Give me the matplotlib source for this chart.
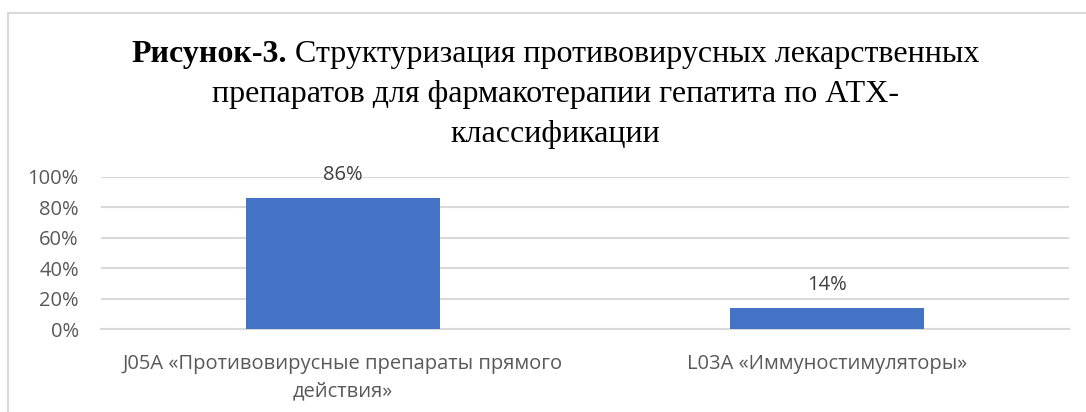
import matplotlib
matplotlib.use("Agg")
import matplotlib.pyplot as plt
from matplotlib.lines import Line2D

categories = ["J05A «Противовирусные препараты прямого\nдействия»",
              "L03A «Иммуностимуляторы»"]
values = [0.86, 0.14]
value_labels = ["86%", "14%"]
yticks = [0, 0.2, 0.4, 0.6, 0.8, 1.0]
ytick_labels = ["0%", "20%", "40%", "60%", "80%", "100%"]
title_bold = "Рисунок-3."
title_rest = " Структуризация противовирусных лекарственных"
title_lines = ["препаратов для фармакотерапии гепатита по АТХ-",
               "классификации"]

W, H = 1086, 412
fig = plt.figure(figsize=(W / 100, H / 100), dpi=100)
fig.patch.set_facecolor("white")

# chart border (top and left visible)
fig.add_artist(Line2D([8 / W, 1.0], [1 - 13 / H, 1 - 13 / H], color="#d9d9d9", lw=1.5,
                      transform=fig.transFigure))
fig.add_artist(Line2D([8 / W, 8 / W], [0, 1 - 13 / H], color="#d9d9d9", lw=1.5,
                      transform=fig.transFigure))

left, right = 101, 1069
top, bottom = 176.7, 329.3
ax = fig.add_axes([left / W, 1 - bottom / H, (right - left) / W, (bottom - top) / H])
ax.set_facecolor("none")

lfs = 14.5
x = list(range(len(values)))
bars = ax.bar(x, values, width=0.4, color="#4472c4", zorder=3)
ax.set_xlim(-0.5, len(values) - 0.5)
ax.set_ylim(0, 1.0)
ax.set_yticks(yticks)
ax.set_yticklabels(ytick_labels)
ax.set_xticks(x)
ax.set_xticklabels(categories)
ax.tick_params(axis="both", length=0, colors="#595959", labelsize=lfs)
for lab in ax.get_yticklabels() + ax.get_xticklabels():
    lab.set_family("Open Sans")
ax.tick_params(axis="y", pad=16)
ax.tick_params(axis="x", pad=18)
for lab in ax.get_xticklabels():
    lab.set_linespacing(1.45)
    lab.set_ha("center")
    lab.set_va("top")
ax.grid(axis="y", color="#d9d9d9", lw=1.5, zorder=0)
for s in ["top", "right", "left"]:
    ax.spines[s].set_visible(False)
ax.spines["bottom"].set_color("#d9d9d9")
ax.spines["bottom"].set_linewidth(1.5)

for b, lbl in zip(bars, value_labels):
    ax.annotate(lbl, (b.get_x() + b.get_width() / 2, b.get_height()),
                xytext=(0, 16.5), textcoords="offset points", ha="center", va="center",
                color="#404040", fontsize=lfs, family="Open Sans")

# title
tfs = 23
cx = 555 / W
fig.canvas.draw()
r = fig.canvas.get_renderer()
t1 = fig.text(0, 0, title_bold, fontsize=tfs, family="Liberation Serif", weight="bold")
t2 = fig.text(0, 0, title_rest, fontsize=tfs, family="Liberation Serif")
w1 = t1.get_window_extent(r).width / W
w2 = t2.get_window_extent(r).width / W
x0 = cx - (w1 + w2) / 2
y1 = 1 - 62 / H
t1.set_position((x0, y1)); t1.set_va("baseline")
t2.set_position((x0 + w1, y1)); t2.set_va("baseline")
for i, line in enumerate(title_lines):
    fig.text(cx, 1 - (62 + 40 * (i + 1)) / H, line, fontsize=tfs, family="Liberation Serif",
             ha="center", va="baseline")

fig.savefig("out.png", dpi=100)
